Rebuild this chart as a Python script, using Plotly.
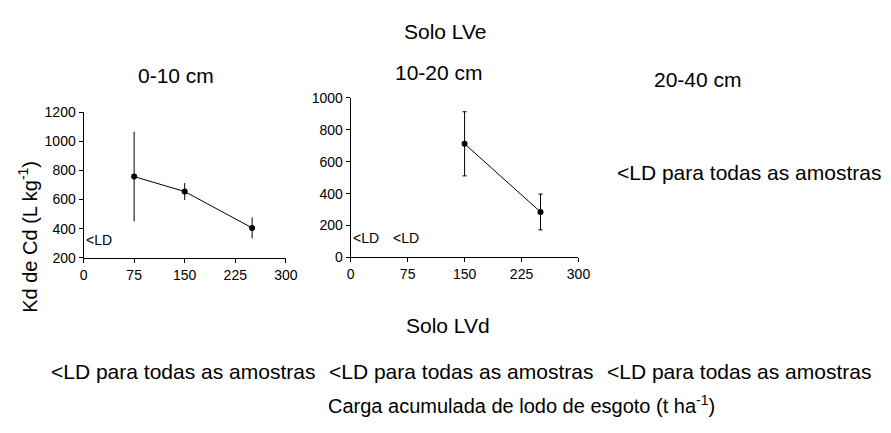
import plotly.graph_objects as go

# Kd de Cd (L kg-1) versus carga acumulada de lodo de esgoto (t ha-1), Solo LVe
carga_0_10 = [75, 150, 250]
kd_0_10 = [758, 655, 405]
err_0_10 = [308, 58, 72]

carga_10_20 = [150, 250]
kd_10_20 = [712, 285]
err_10_20 = [201, 112]

x_ticks = [0, 75, 150, 225, 300]
profundidades = ["0-10 cm", "10-20 cm", "20-40 cm"]
sem_dados = "<LD para todas as amostras"
ld = "&lt;LD"

W, H = 891, 433
FONT = "Liberation Sans, Arial, sans-serif"


def px(x):
    return x / W


def py(y):
    return 1 - y / H


fig = go.Figure()

marker = dict(color="black", size=6)
line = dict(color="black", width=1)

fig.add_trace(go.Scatter(
    x=carga_0_10, y=kd_0_10, mode="lines+markers", marker=marker, line=line,
    error_y=dict(type="data", array=err_0_10, color="black", thickness=1, width=0),
    xaxis="x", yaxis="y", showlegend=False, cliponaxis=False))

fig.add_trace(go.Scatter(
    x=carga_10_20, y=kd_10_20, mode="lines+markers", marker=marker, line=line,
    error_y=dict(type="data", array=err_10_20, color="black", thickness=1, width=2),
    xaxis="x2", yaxis="y2", showlegend=False, cliponaxis=False))

axis_common = dict(
    showline=True, linecolor="black", linewidth=1, showgrid=False, zeroline=False,
    ticks="outside", ticklen=4, tickcolor="black", tickwidth=1,
    tickfont=dict(family=FONT, size=14, color="black"),
)

fig.update_layout(
    width=W, height=H,
    margin=dict(l=0, r=0, t=0, b=0),
    paper_bgcolor="white", plot_bgcolor="white",
    font=dict(family=FONT, color="black"),
    xaxis=dict(domain=[px(81), px(287)], range=[0, 300], tickvals=x_ticks,
               anchor="y", **axis_common),
    yaxis=dict(domain=[py(259.3), py(108.3)], range=[200, 1200], dtick=200,
               anchor="x", **axis_common),
    xaxis2=dict(domain=[px(353), px(585)], range=[0, 300], tickvals=x_ticks,
                anchor="y2", **axis_common),
    yaxis2=dict(domain=[py(259), py(93.3)], range=[0, 1000], dtick=200,
                anchor="x2", **axis_common),
)


def label(text, x, y, size=21, **kw):
    fig.add_annotation(text=text, x=px(x), y=py(y), xref="paper", yref="paper",
                       showarrow=False, xanchor="center", yanchor="middle",
                       font=dict(family=FONT, size=size, color="black"), **kw)


# títulos
label("Solo LVe", 450, 24)
label(profundidades[0], 175, 70)
label(profundidades[1], 443, 67)
label(profundidades[2], 707, 74)
label(sem_dados.replace("<", "&lt;"), 759, 171)

label("Solo LVd", 452, 330)
for xc in [182, 465, 748]:
    label(sem_dados.replace("<", "&lt;"), xc, 377)

label("Carga acumulada de lodo de esgoto (t ha<sup>-1</sup>)", 527, 412, size=20)
label("Kd de Cd (L kg<sup>-1</sup>)", 24, 238, size=20, textangle=-90)

# doses abaixo do limite de detecção
fig.add_annotation(text=ld, x=0, y=321, xref="x", yref="y", showarrow=False,
                   xanchor="left", yanchor="middle",
                   font=dict(family=FONT, size=14, color="black"))
fig.add_annotation(text=ld, x=0, y=121, xref="x2", yref="y2", showarrow=False,
                   xanchor="left", yanchor="middle",
                   font=dict(family=FONT, size=14, color="black"))
fig.add_annotation(text=ld, x=73, y=121, xref="x2", yref="y2", showarrow=False,
                   xanchor="center", yanchor="middle",
                   font=dict(family=FONT, size=14, color="black"))

fig.write_html("out.html")
